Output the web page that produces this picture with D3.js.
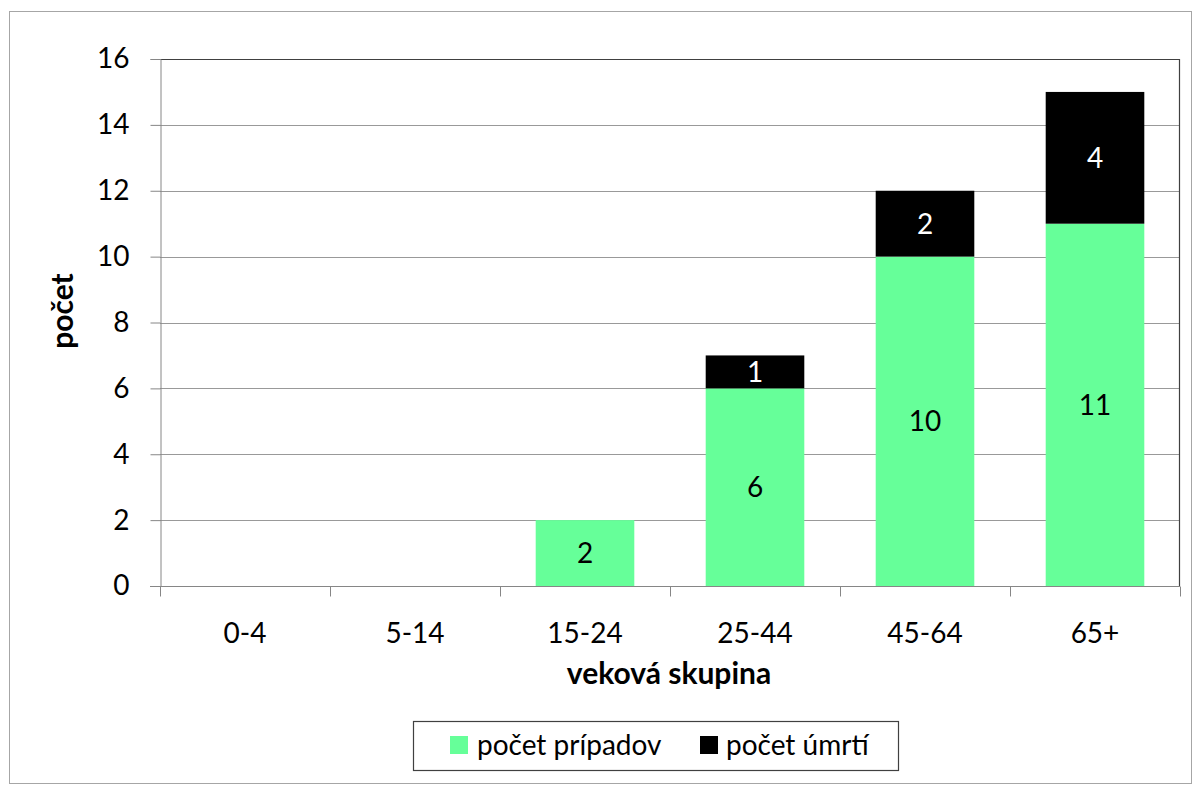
<!DOCTYPE html>
<html>
<head>
<meta charset="utf-8">
<script src="https://cdn.jsdelivr.net/npm/d3@7"></script>
<style>
  html, body { margin: 0; padding: 0; background: #fff; }
  svg { display: block; font-family: Lato, "Open Sans", sans-serif; }
</style>
</head>
<body>
<svg id="chart" width="1202" height="794"></svg>
<script>
// Age groups and counts
const categories = ["0-4", "5-14", "15-24", "25-44", "45-64", "65+"];
const cases = [0, 0, 2, 6, 10, 11];
const deaths = [0, 0, 0, 1, 2, 4];
const seriesNames = ["počet prípadov", "počet úmrtí"];
const seriesColors = ["#66ff99", "#000000"];
const yTicks = [0, 2, 4, 6, 8, 10, 12, 14, 16];

const FS = 28;       // regular text size
const FS_TITLE = 30; // bold axis titles
const svg = d3.select("#chart");
const W = 1202, H = 794;
const plot = { left: 160, top: 59, right: 1180, bottom: 586 };

// Outer frame
svg.append("rect")
  .attr("x", 9.5).attr("y", 11.5)
  .attr("width", W - 20).attr("height", H - 22)
  .attr("fill", "#fff").attr("stroke", "#a6a6a6").attr("stroke-width", 1);

const x = d3.scaleBand().domain(categories).range([plot.left, plot.right]).paddingInner(0.42).paddingOuter(0.21);
const xBand = d3.scaleBand().domain(categories).range([plot.left, plot.right]);
const y = d3.scaleLinear().domain([0, 16]).range([plot.bottom, plot.top]);

// Gridlines
svg.append("g").selectAll("line").data(yTicks.filter(t => t > 0)).join("line")
  .attr("x1", plot.left).attr("x2", plot.right)
  .attr("y1", d => Math.round(y(d)) + 0.5).attr("y2", d => Math.round(y(d)) + 0.5)
  .attr("stroke", "#999").attr("stroke-width", 1);

// Plot frame top & right
svg.append("path")
  .attr("d", `M${plot.left},${Math.round(y(16)) + 0.5}H${plot.right - 0.5}V${plot.bottom}`)
  .attr("fill", "none").attr("stroke", "#404040").attr("stroke-width", 1.2);

// Stacked bars
const stackData = categories.map((c, i) => ({ cat: c, cases: cases[i], deaths: deaths[i] }));
const stacked = d3.stack().keys(["cases", "deaths"])(stackData);

const layers = svg.append("g").selectAll("g").data(stacked).join("g")
  .attr("fill", (d, i) => seriesColors[i]);

layers.selectAll("rect").data(d => d.filter(p => p[1] - p[0] > 0)).join("rect")
  .attr("x", d => x(d.data.cat))
  .attr("width", x.bandwidth())
  .attr("y", d => y(d[1]))
  .attr("height", d => y(d[0]) - y(d[1]));

// Value labels inside segments
layers.each(function (layer, li) {
  d3.select(this).selectAll("text").data(layer.filter(p => p[1] - p[0] > 0)).join("text")
    .attr("x", d => x(d.data.cat) + x.bandwidth() / 2)
    .attr("y", d => (y(d[0]) + y(d[1])) / 2)
    .attr("dy", "0.36em")
    .attr("text-anchor", "middle")
    .attr("font-size", FS)
    .attr("fill", li === 0 ? "#000" : "#fff")
    .text(d => d[1] - d[0]);
});

// Y axis
const yAxis = svg.append("g").attr("transform", `translate(${plot.left + 0.5},0)`)
  .call(d3.axisLeft(y).tickValues(yTicks).tickSize(10).tickPadding(21));
yAxis.select(".domain").attr("stroke", "#868686");
yAxis.selectAll(".tick line").attr("stroke", "#868686");
yAxis.selectAll("text").attr("font-size", FS).attr("fill", "#000").attr("font-family", "Lato, 'Open Sans', sans-serif");

// X axis with ticks at band boundaries
const xAxis = svg.append("g").attr("transform", `translate(0,${plot.bottom + 0.5})`);
xAxis.append("line").attr("x1", plot.left - 10).attr("x2", plot.right).attr("stroke", "#868686");
const bounds = categories.map(c => xBand(c)).concat([plot.right]);
xAxis.selectAll("line.tk").data(bounds).join("line").attr("class", "tk")
  .attr("x1", d => Math.round(d) + 0.5).attr("x2", d => Math.round(d) + 0.5)
  .attr("y1", 0).attr("y2", 10).attr("stroke", "#868686");
xAxis.selectAll("text").data(categories).join("text")
  .attr("x", d => xBand(d) + xBand.bandwidth() / 2)
  .attr("y", 56)
  .attr("text-anchor", "middle")
  .attr("font-size", FS)
  .text(d => d);

// Axis titles
svg.append("text")
  .attr("x", 669).attr("y", 684)
  .attr("text-anchor", "middle").attr("font-size", FS_TITLE).attr("font-weight", "bold")
  .text("veková skupina");
svg.append("text")
  .attr("transform", "translate(73,311) rotate(-90)")
  .attr("text-anchor", "middle").attr("font-size", FS_TITLE).attr("font-weight", "bold")
  .text("počet");

// Legend
const lg = svg.append("g");
lg.append("rect").attr("x", 413.5).attr("y", 721.5).attr("width", 485).attr("height", 49)
  .attr("fill", "#fff").attr("stroke", "#404040").attr("stroke-width", 1.2);
const legendItems = [{ sx: 450, tx: 477 }, { sx: 700, tx: 726 }];
seriesNames.forEach((name, i) => {
  lg.append("rect").attr("x", legendItems[i].sx).attr("y", 736).attr("width", 18).attr("height", 18)
    .attr("fill", seriesColors[i]);
  lg.append("text").attr("x", legendItems[i].tx).attr("y", 745).attr("dy", "0.36em")
    .attr("font-size", FS).text(name);
});
</script>
</body>
</html>
